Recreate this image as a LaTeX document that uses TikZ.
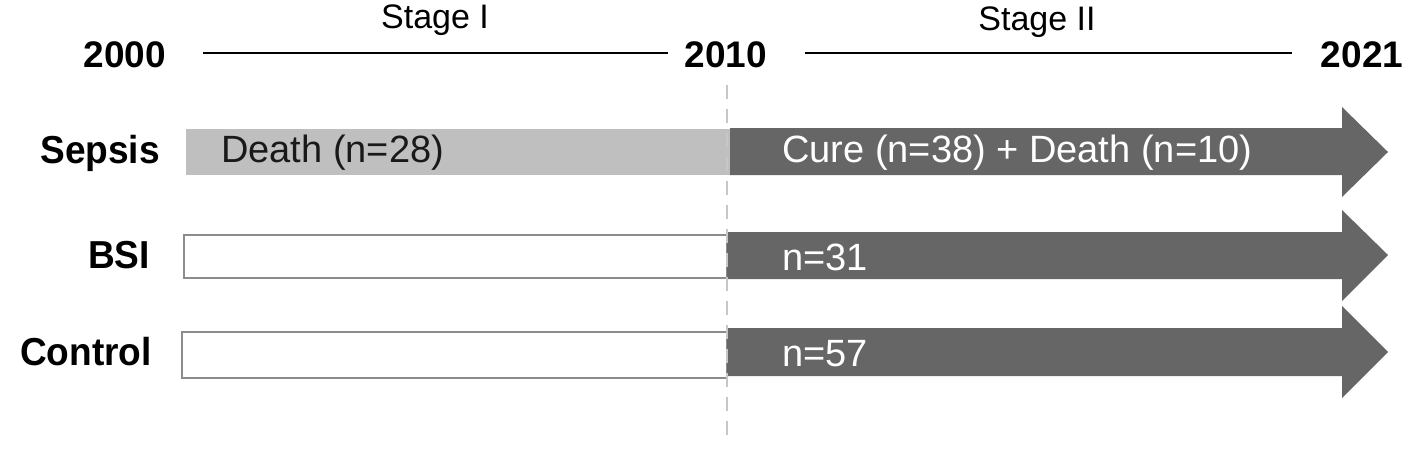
\documentclass[tikz,border=0pt]{standalone}
\usepackage{fontspec}
\setmainfont{Liberation Sans}
\newfontfamily\rowfont[FakeStretch=0.95]{Liberation Sans}
\begin{document}
\begin{tikzpicture}[x=1pt,y=-1pt,
  yearlbl/.style={font=\fontsize{37}{44}\selectfont\bfseries, inner sep=0pt, anchor=center},
  rowlbl/.style={font=\rowfont\fontsize{39}{46}\selectfont\bfseries, inner sep=0pt, anchor=east},
  stagelbl/.style={font=\fontsize{34}{40}\selectfont, inner sep=0pt, anchor=center},
  bartxt/.style={font=\fontsize{38}{44}\selectfont, inner sep=0pt, anchor=west},
  tline/.style={line width=2pt, black},
  emptybar/.style={draw=black!45, line width=2pt, fill=white},
  darkarrow/.style={fill=black!60, draw=none},
  sep/.style={draw=black!22, line width=2.5pt, dash pattern=on 14pt off 10pt}
]
\useasboundingbox (0,0) rectangle (1418,450);

% timeline
\node[yearlbl] (y2000) at (125,55) {2000};
\node[yearlbl] (y2010) at (726,55) {2010};
\node[yearlbl] (y2021) at (1362,55) {2021};
\node[stagelbl] (s1) at (435,20) {Stage I};
\node[stagelbl] (s2) at (1037,22) {Stage II};
\coordinate (l1a) at (203,53);
\coordinate (l1b) at (668,53);
\coordinate (l2a) at (805,53);
\coordinate (l2b) at (1292,53);
\draw[tline] (l1a) -- (l1b);
\draw[tline] (l2a) -- (l2b);

% bars
\fill[black!25] (186,129) rectangle (730,175);
\draw[emptybar] (184,235) rectangle (727,278);
\draw[emptybar] (182,332) rectangle (727,378);

% arrows
\path[darkarrow] (730,128) -- (1342,128) -- (1342,107) -- (1388,152) -- (1342,197) -- (1342,175) -- (730,175) -- cycle;
\path[darkarrow] (727,232) -- (1342,232) -- (1342,210) -- (1388,255) -- (1342,301) -- (1342,279) -- (727,279) -- cycle;
\path[darkarrow] (727,328) -- (1342,328) -- (1342,306) -- (1388,352) -- (1342,398) -- (1342,376) -- (727,376) -- cycle;

% dashed separator
\coordinate (d1) at (727,85);
\coordinate (d2) at (727,445);
\draw[sep] (d1) -- (d2);

% row labels
\node[rowlbl] (sepsis) at (160,153) {Sepsis};
\node[rowlbl] (bsi) at (150,255) {BSI};
\node[rowlbl] (control) at (152,352) {Control};

% bar texts
\node[bartxt, text=black!90] (death) at (221,153) {Death (n=28)};
\node[bartxt, text=white] (cure) at (782,153) {Cure (n=38) + Death (n=10)};
\node[bartxt, text=white] (n31) at (782,257) {n=31};
\node[bartxt, text=white] (n57) at (782,354) {n=57};
\end{tikzpicture}
\end{document}
